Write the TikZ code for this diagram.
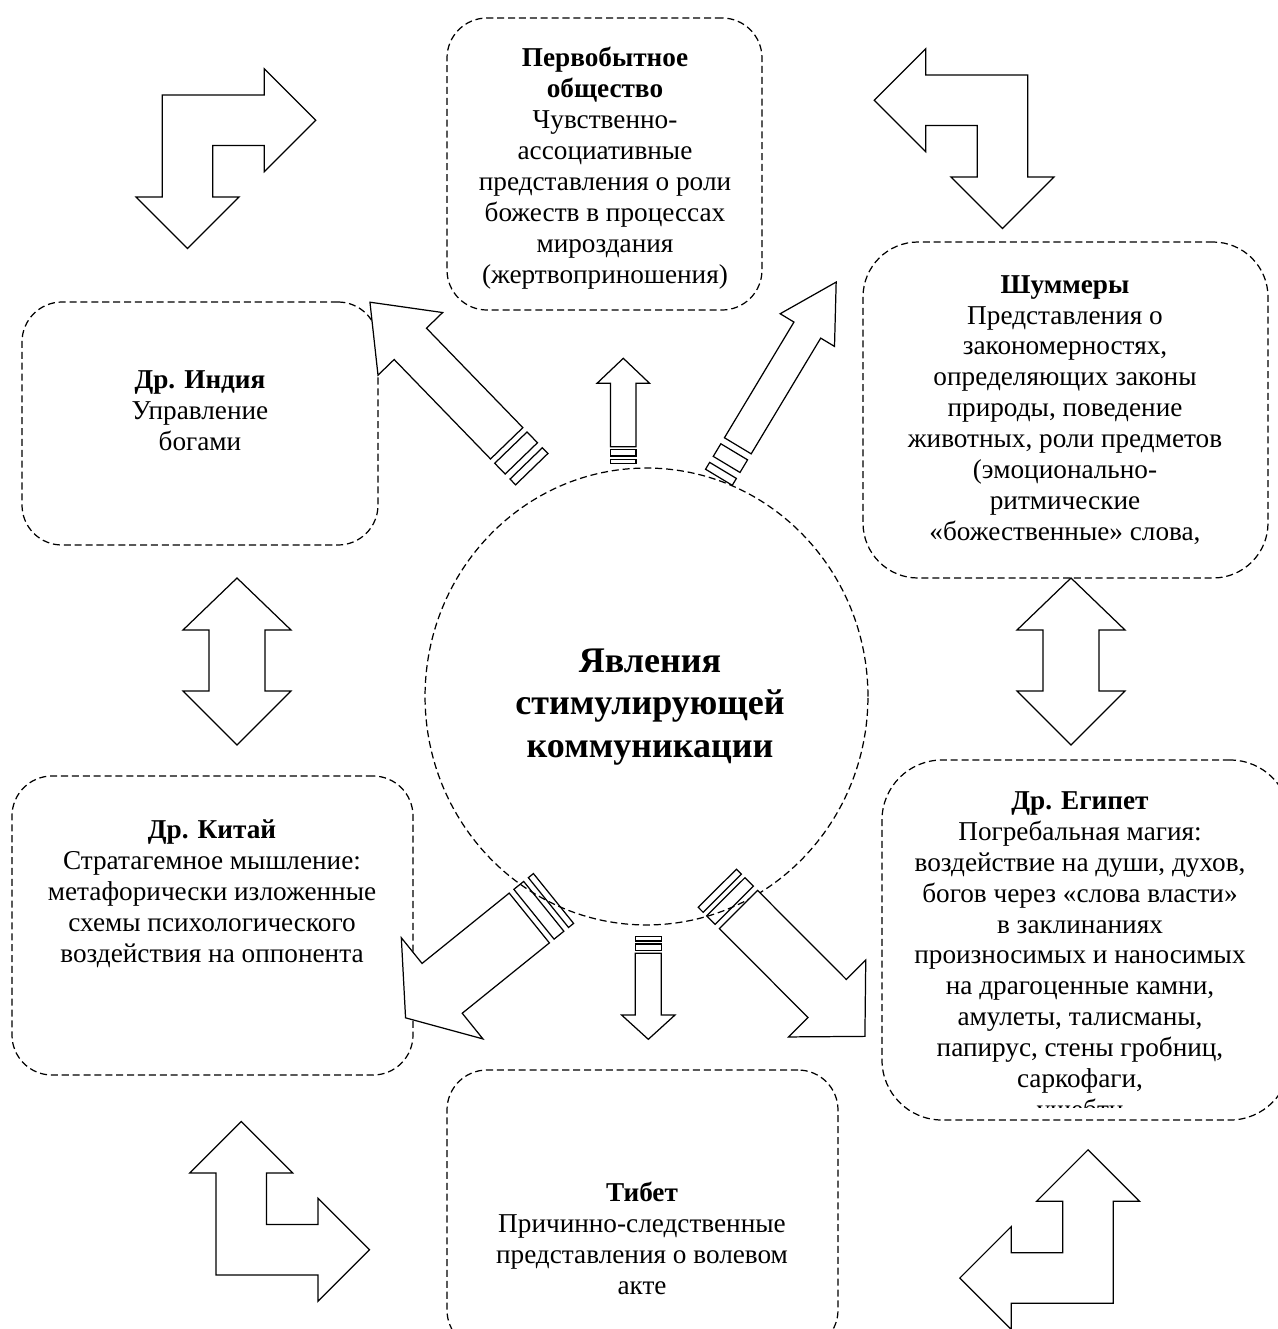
\documentclass[tikz,border=0pt]{standalone}
\usepackage{fontspec}
\setmainfont{Liberation Serif}
\usetikzlibrary{fit}
\usetikzlibrary{shapes.geometric}

\begin{document}
\begin{tikzpicture}[x=0.02cm, y=-0.02cm,
        dashline/.style={draw, dash pattern=on 4pt off 2.2pt, line width=0.7pt},
        box/.style={dashline, rounded corners=#1, inner sep=0pt},
        box/.default=0.8cm,
        txt/.style={align=center, inner sep=0pt, font=\fontsize{15.5}{17.6}\selectfont},
        bigtxt/.style={align=center, inner sep=0pt, font=\fontsize{20.5}{24.2}\selectfont\bfseries},
        blockarrow/.style={draw, fill=white, line width=0.7pt},
        stripe/.style={draw, line width=0.7pt}]
    \useasboundingbox (0,0) rectangle (1278,1329);

    % text boxes
    \node[box, fit={(447,18) (762,310)}] (pervob) {};
    \node[box, fit={(22,302) (378,545)}] (india) {};
    \node[box=1.1cm, fit={(863,242) (1268,578)}] (shumer) {};
    \node[box, fit={(12,776) (413,1075)}] (china) {};
    \node[box, fit={(447,1070) (838,1350)}] (tibet) {};
    \node[box=1.2cm, fit={(882,760) (1290,1120)}] (egypt) {};
    \node[dashline, ellipse, minimum width=8.86cm, minimum height=9.14cm] (centre) at (646.5,696.5) {};

    % bent arrows in the corners
    \foreach \cx/\cy/\sx/\sy in {162.3/95/1/1, 1027.7/75/-1/1, 216/1275/1/-1, 1113.3/1303.3/-1/-1}
    {
        \draw[blockarrow, shift={(\cx,\cy)}, xscale=\sx, yscale=\sy]
            (0,0) -- (102,0) -- (102,-26.25) -- (153.5,25.25) -- (102,76.75) -- (102,50.5)
            -- (50.5,50.5) -- (50.5,102) -- (76.75,102) -- (25.25,153.5) -- (-26.25,102) -- (0,102) -- cycle;
    }

    % double arrows between the side boxes
    \foreach \mx in {237, 1071}
        \draw[blockarrow] (\mx,578) -- ++(54,52) -- ++(-26,0) -- ++(0,61) -- ++(26,0) -- (\mx,745)
            -- ++(-54,-54) -- ++(26,0) -- ++(0,-61) -- ++(-26,0) -- cycle;

    % striped arrows out of the centre
    \foreach \tx/\ty/\ang/\sw/\sl/\hw/\hl/\ga/\ta/\gb/\tb in {
        506.7/443.3/134.1/22.5/138.5/45/58/6/15/7/8,
        737.8/445.8/59/15.6/135/31.7/56/7/14.7/7/8,
        529.3/918/218.9/32/112/65/47/6/12.6/6/6.5,
        738.5/909.5/-45.1/27/125.6/54.5/53.5/6/12/5/7,
        623.3/446.7/90/12.7/63.4/26.3/25/2.6/6.7/3.3/4,
        648.3/953.3/-90/13/61.7/26.7/24.3/2.6/6.7/3/4.3}
    {
        \begin{scope}[shift={(\tx,\ty)}, rotate=\ang]
            \draw[blockarrow] (0,-\sw) -- (\sl,-\sw) -- (\sl,-\hw) -- (\sl+\hl,0) -- (\sl,\hw) -- (\sl,\sw) -- (0,\sw) -- cycle;
            \draw[stripe] (-\ga,-\sw) rectangle (-\ga-\ta,\sw);
            \draw[stripe] (-\ga-\ta-\gb,-\sw) rectangle (-\ga-\ta-\gb-\tb,\sw);
        \end{scope}
    }

    % texts
    \node[bigtxt] (centretext) at (650,707) {Явления\\стимулирующей\\коммуникации};
    \node[txt] (pervobtext) at (605,168) {\textbf{Первобытное}\\\textbf{общество}\\Чувственно-\\ассоциативные\\представления о роли\\божеств в процессах\\мироздания\\(жертвоприношения)};
    \node[txt] (indiatext) at (200,411) {\textbf{Др. Индия}\\Управление\\богами};
    \node[txt] (shumertext) at (1065,410) {\textbf{Шуммеры}\\Представления о\\закономерностях,\\определяющих законы\\природы, поведение\\животных, роли предметов\\(эмоционально-\\ритмические\\«божественные» слова,};
    \node[txt] (chinatext) at (212,893.5) {\textbf{Др. Китай}\\Стратагемное мышление:\\метафорически изложенные\\схемы психологического\\воздействия на оппонента};
    \node[txt] (tibettext) at (642,1238) {\textbf{Тибет}\\Причинно-следственные\\представления о волевом\\акте};
    \begin{scope}
        \clip (882,760) rectangle (1290,1107);
        \node[txt] (egypttext) at (1080,958) {\textbf{Др. Египет}\\Погребальная магия:\\воздействие на души, духов,\\богов через «слова власти»\\в заклинаниях\\произносимых и наносимых\\на драгоценные камни,\\амулеты, талисманы,\\папирус, стены гробниц,\\саркофаги,\\ушебти};
    \end{scope}
\end{tikzpicture}
\end{document}
